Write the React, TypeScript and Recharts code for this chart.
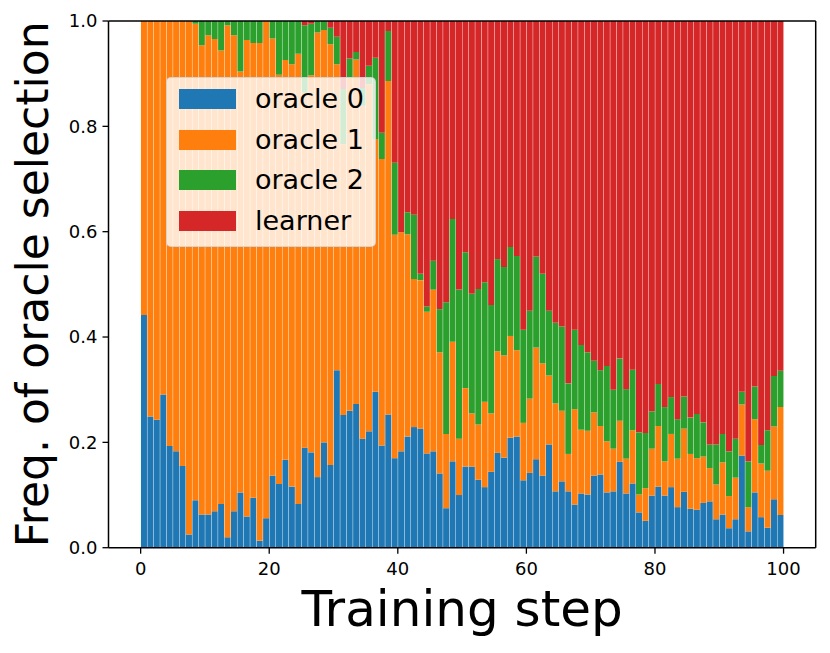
import { BarChart, Bar, XAxis, YAxis, Legend, ReferenceLine } from 'recharts'

const FONT = '"DejaVu Sans", sans-serif'

const steps = Array.from({ length: 100 }, (_, i) => i)

// fraction of each selection per training step
const oracle0 = [
  0.442, 0.249, 0.243, 0.291, 0.193, 0.183, 0.155, 0.025, 0.090, 0.063,
  0.063, 0.069, 0.083, 0.020, 0.069, 0.105, 0.059, 0.095, 0.013, 0.056,
  0.137, 0.121, 0.167, 0.116, 0.083, 0.190, 0.181, 0.134, 0.200, 0.157,
  0.337, 0.252, 0.260, 0.273, 0.207, 0.221, 0.296, 0.194, 0.253, 0.170,
  0.183, 0.211, 0.229, 0.226, 0.179, 0.183, 0.141, 0.075, 0.164, 0.100,
  0.154, 0.154, 0.129, 0.115, 0.144, 0.180, 0.171, 0.209, 0.211, 0.128,
  0.142, 0.168, 0.137, 0.196, 0.107, 0.126, 0.107, 0.082, 0.103, 0.101,
  0.137, 0.139, 0.105, 0.107, 0.163, 0.103, 0.122, 0.067, 0.051, 0.099,
  0.116, 0.099, 0.115, 0.077, 0.106, 0.074, 0.072, 0.085, 0.088, 0.054,
  0.063, 0.037, 0.054, 0.175, 0.031, 0.105, 0.058, 0.038, 0.092, 0.062,
]
const oracle1 = [
  0.558, 0.751, 0.757, 0.709, 0.807, 0.817, 0.845, 0.975, 0.905, 0.891,
  0.910, 0.897, 0.861, 0.972, 0.904, 0.799, 0.905, 0.863, 0.945, 0.944,
  0.830, 0.777, 0.759, 0.802, 0.855, 0.674, 0.716, 0.844, 0.783, 0.799,
  0.581, 0.514, 0.633, 0.654, 0.632, 0.659, 0.480, 0.544, 0.633, 0.424,
  0.416, 0.384, 0.281, 0.282, 0.269, 0.307, 0.230, 0.141, 0.227, 0.107,
  0.149, 0.101, 0.105, 0.162, 0.111, 0.193, 0.194, 0.193, 0.164, 0.109,
  0.141, 0.212, 0.213, 0.131, 0.167, 0.134, 0.071, 0.181, 0.121, 0.121,
  0.120, 0.092, 0.097, 0.081, 0.078, 0.066, 0.101, 0.034, 0.062, 0.089,
  0.115, 0.065, 0.101, 0.092, 0.120, 0.104, 0.098, 0.088, 0.063, 0.066,
  0.099, 0.061, 0.079, 0.097, 0.046, 0.139, 0.102, 0.108, 0.138, 0.205,
]
const oracle2 = [
  0, 0, 0, 0, 0, 0, 0, 0, 0.005, 0.046,
  0.027, 0.034, 0.056, 0.008, 0.027, 0.096, 0.036, 0.042, 0.042, 0,
  0.033, 0.102, 0.074, 0.082, 0.062, 0.128, 0.098, 0.022, 0.017, 0.031,
  0.052, 0.105, 0.036, 0.014, 0.034, 0.035, 0.154, 0.050, 0.095, 0.137,
  0, 0.042, 0.122, 0.012, 0.010, 0.055, 0.082, 0.250, 0.233, 0.283,
  0.258, 0.227, 0.257, 0.227, 0.206, 0.175, 0.168, 0.169, 0.179, 0.177,
  0.167, 0.173, 0.170, 0.123, 0.153, 0.160, 0.134, 0.151, 0.161, 0.149,
  0.098, 0.106, 0.143, 0.112, 0.118, 0.132, 0.115, 0.118, 0.105, 0.071,
  0.080, 0.103, 0.070, 0.075, 0.061, 0.069, 0.084, 0.065, 0.045, 0.076,
  0.054, 0.085, 0.074, 0.024, 0.087, 0.062, 0.035, 0.077, 0.096, 0.069,
]
const learner = [
  0, 0, 0, 0, 0, 0, 0, 0, 0, 0,
  0, 0, 0, 0, 0, 0, 0, 0, 0, 0,
  0, 0, 0, 0, 0, 0.008, 0.005, 0, 0, 0.013,
  0.030, 0.129, 0.071, 0.059, 0.127, 0.085, 0.070, 0.212, 0.019, 0.269,
  0.401, 0.363, 0.368, 0.480, 0.542, 0.455, 0.547, 0.534, 0.376, 0.510,
  0.439, 0.518, 0.509, 0.496, 0.539, 0.452, 0.467, 0.429, 0.446, 0.586,
  0.550, 0.447, 0.480, 0.550, 0.573, 0.580, 0.688, 0.586, 0.615, 0.629,
  0.645, 0.663, 0.655, 0.700, 0.641, 0.699, 0.662, 0.781, 0.782, 0.741,
  0.689, 0.733, 0.714, 0.756, 0.713, 0.753, 0.746, 0.762, 0.804, 0.804,
  0.784, 0.817, 0.793, 0.704, 0.836, 0.694, 0.805, 0.777, 0.674, 0.664,
]

const xTicks = [0, 20, 40, 60, 80, 100]
const yTicks = [0, 0.2, 0.4, 0.6, 0.8, 1.0]

const series = [
  { key: 'oracle0', name: 'oracle 0', color: '#1f77b4' },
  { key: 'oracle1', name: 'oracle 1', color: '#ff7f0e' },
  { key: 'oracle2', name: 'oracle 2', color: '#2ca02c' },
  { key: 'learner', name: 'learner', color: '#d62728' },
]

// bars are edge aligned: step i covers [i, i+1)
const data = steps.map((s, i) => ({
  x: s + 0.5,
  oracle0: oracle0[i],
  oracle1: oracle1[i],
  oracle2: oracle2[i],
  learner: learner[i],
}))

const XTitle = (props: any) => {
  const vb = props.viewBox
  return (
    <text x={vb.x + vb.width / 2} y={vb.y + 78} textAnchor="middle" fontSize={50} fontFamily={FONT} fill="#000">
      Training step
    </text>
  )
}

const YTitle = (props: any) => {
  const vb = props.viewBox
  const x = vb.x + 40
  const y = vb.y + vb.height / 2
  return (
    <text x={x} y={y} transform={`rotate(-90 ${x} ${y})`} textAnchor="middle" fontSize={44} fontFamily={FONT} fill="#000">
      Freq. of oracle selection
    </text>
  )
}

const renderLegend = () => (
  <div
    style={{
      width: 210,
      height: 170,
      boxSizing: 'border-box',
      background: 'rgba(255,255,255,0.8)',
      border: '1px solid rgba(204,204,204,0.8)',
      borderRadius: 5,
      position: 'relative',
      fontFamily: FONT,
    }}
  >
    {series.map((s, i) => (
      <div
        key={s.key}
        style={{ position: 'absolute', left: 12, top: 11 + i * 40.7, height: 20, display: 'flex', alignItems: 'center' }}
      >
        <div style={{ width: 57, height: 20, background: s.color }} />
        <span style={{ marginLeft: 19, fontSize: 27, lineHeight: '20px', color: '#000', whiteSpace: 'nowrap' }}>
          {s.name}
        </span>
      </div>
    ))}
  </div>
)

export default function App() {
  const tickStyle = { fill: '#000', fontSize: 18, fontFamily: FONT }
  const spine = { stroke: '#000', strokeWidth: 1.5 }
  return (
    <div style={{ width: 822, height: 645 }}>
      <BarChart
        width={822}
        height={645}
        data={data}
        margin={{ top: 13, right: 14.3, bottom: 0, left: 0 }}
        barCategoryGap="5%"
      >
        <XAxis
          dataKey="x"
          type="number"
          domain={[-5, 105]}
          ticks={xTicks}
          allowDataOverflow
          height={105.3}
          tick={tickStyle}
          tickSize={6}
          tickMargin={9}
          axisLine={spine}
          tickLine={{ stroke: '#000', strokeWidth: 1.3 }}
          label={<XTitle />}
        />
        <YAxis
          type="number"
          domain={[0, 1]}
          ticks={yTicks}
          width={100.5}
          tick={tickStyle}
          tickSize={6}
          tickMargin={5}
          tickFormatter={(v: number) => v.toFixed(1)}
          axisLine={spine}
          tickLine={{ stroke: '#000', strokeWidth: 1.3 }}
          label={<YTitle />}
        />
        {series.map((s) => (
          <Bar key={s.key} dataKey={s.key} name={s.name} stackId="a" fill={s.color} isAnimationActive={false} />
        ))}
        <ReferenceLine y={1} stroke="#000" strokeWidth={1.5} ifOverflow="visible" />
        <ReferenceLine x={105} stroke="#000" strokeWidth={1.5} ifOverflow="visible" />
        <Legend
          layout="vertical"
          align="center"
          verticalAlign="middle"
          content={renderLegend}
          wrapperStyle={{ left: 158, top: 69, width: 210, height: 170 }}
        />
      </BarChart>
    </div>
  )
}
